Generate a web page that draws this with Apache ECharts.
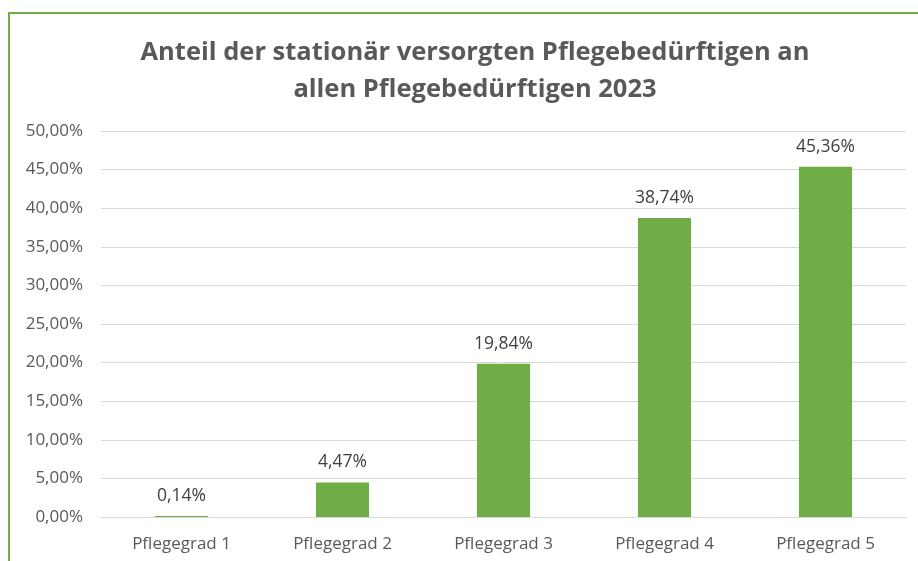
<!DOCTYPE html>
<html><head><meta charset="utf-8">
<script src="https://cdn.jsdelivr.net/npm/echarts@6/dist/echarts.min.js"></script>
<style>html,body{margin:0;padding:0;background:#fff}#c{width:918px;height:561px}</style>
</head><body><div id="c"></div>
<script>
const categories = ["Pflegegrad 1","Pflegegrad 2","Pflegegrad 3","Pflegegrad 4","Pflegegrad 5"];
const values = [0.14, 4.47, 19.84, 38.74, 45.36];
const titleText = "Anteil der stationär versorgten Pflegebedürftigen an\nallen Pflegebedürftigen 2023";
const fmt = v => v.toFixed(2).replace('.', ',') + '%';
const chart = echarts.init(document.getElementById('c'));
chart.setOption({
  animation: false,
  title: {
    text: titleText, left: 470, textAlign: 'center', top: 29,
    textStyle: {fontFamily: 'Open Sans', fontWeight: 'bold', fontSize: 25.5, color: '#595959', lineHeight: 37}
  },
  graphic: [{type: 'rect', shape: {x: 9, y: 13, width: 1000, height: 600}, style: {fill: 'none', stroke: '#70ad47', lineWidth: 2}}],
  grid: {left: 101, right: 12, top: 131, bottom: 44},
  xAxis: {
    type: 'category', data: categories,
    axisLine: {show: true, lineStyle: {color: '#d9d9d9'}}, axisTick: {show: false},
    axisLabel: {color: '#595959', fontFamily: 'Open Sans', fontSize: 17, margin: 19}
  },
  yAxis: {
    type: 'value', min: 0, max: 50, interval: 5,
    axisLine: {show: false}, axisTick: {show: false},
    splitLine: {lineStyle: {color: '#d9d9d9', width: 1}},
    axisLabel: {color: '#595959', fontFamily: 'Open Sans', fontSize: 17, margin: 18, formatter: fmt}
  },
  series: [{
    type: 'bar', data: values, barWidth: '33%',
    itemStyle: {color: '#70ad47'},
    label: {show: true, position: 'top', distance: 11, color: '#404040', fontFamily: 'Open Sans', fontSize: 17.5, formatter: p => fmt(p.value)}
  }]
});
</script></body></html>
